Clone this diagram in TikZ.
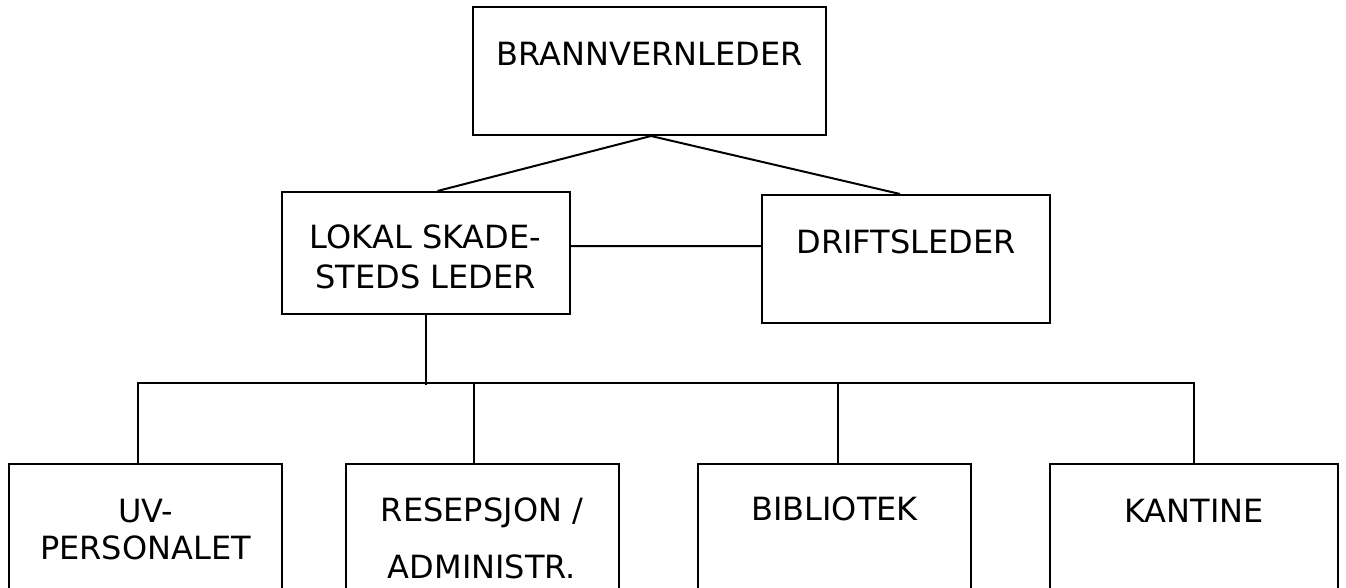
\documentclass[tikz,border=0pt]{standalone}
\usepackage{fontspec}
\setmainfont{DejaVu Sans}
\newcommand{\sizebig}{\fontsize{32}{37}\selectfont}
\tikzset{
    unit/.style={draw, rectangle, line width=2pt, inner sep=0pt},
    topunit/.style={unit, minimum width=288pt, minimum height=125pt},
    lowunit/.style={unit, minimum width=273pt, minimum height=150pt},
    caption/.style={anchor=center, align=center, font=\sizebig},
    link/.style={line width=2pt}
}

\begin{document}
\begin{tikzpicture}[x=1pt, y=-1pt]
    \useasboundingbox (0,0) rectangle (1346,588);
    \clip (0,0) rectangle (1346,588);

    % leader row
    \node[unit, minimum width=353pt, minimum height=128pt,
          label={[caption, name=leader-text, yshift=-48pt]north:BRANNVERNLEDER}] (leader) at (649.5,71) {};

    % middle row
    \node[topunit, minimum height=122pt,
          label={[caption, name=lokal-text, yshift=-66pt]north:LOKAL SKADE-\\[3pt]STEDS LEDER}] (lokal) at (425.5,253) {};
    \node[topunit, minimum height=128pt,
          label={[caption, name=drift-text, yshift=-48pt]north:DRIFTSLEDER}] (drift) at (906,259) {};

    % bottom row
    \node[lowunit, label={[caption, name=uv-text, yshift=-67pt]north:UV-\\PERSONALET}] (uv) at (145.5,539) {};
    \node[lowunit, label={[caption, name=resepsjon-text, yshift=-75pt]north:RESEPSJON /\\[20pt]ADMINISTR.}] (resepsjon) at (482,539) {};
    \node[lowunit, label={[caption, name=bibliotek-text, yshift=-46pt]north:BIBLIOTEK}] (bibliotek) at (834.5,539) {};
    \node[lowunit, minimum width=288pt,
          label={[caption, name=kantine-text, yshift=-48pt]north:KANTINE}] (kantine) at (1194,539) {};

    \draw[link]
      ([xshift=1.5pt]leader.south) -- ([xshift=12pt]lokal.north)
      ([xshift=1.5pt]leader.south) -- ([xshift=-6pt]drift.north)
      ([yshift=7pt]lokal.east) -- ([yshift=13pt]drift.west);

    \draw[link]
      (lokal.south) -- ++(0,70)
      ([xshift=-7.5pt]uv.north) -- ++(0,-80) -| (kantine.north)
      ([xshift=-8pt]resepsjon.north) -- ++(0,-80)
      ([xshift=3.5pt]bibliotek.north) -- ++(0,-80);
\end{tikzpicture}
\end{document}
